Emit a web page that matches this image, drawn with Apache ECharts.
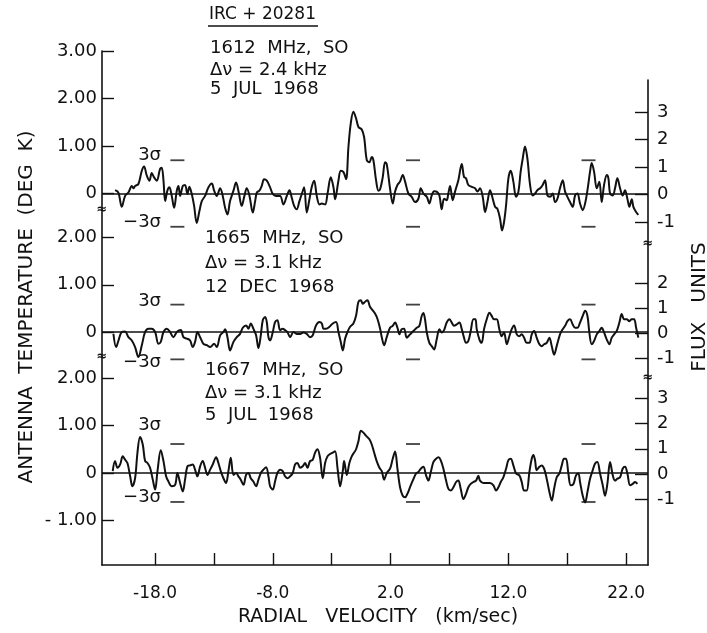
<!DOCTYPE html>
<html><head><meta charset="utf-8">
<script src="https://cdn.jsdelivr.net/npm/echarts@6/dist/echarts.min.js"></script>
<style>html,body{margin:0;padding:0;background:#fff}#c{width:707px;height:633px}</style>
</head><body><div id="c"></div>
<script>
// ---- data: [radial velocity km/s, antenna temperature K]
const spec1612 = [
[-21.39,0.07],[-21.11,0.02],[-20.82,-0.28],[-20.54,-0.05],[-20.26,0.02],[-19.97,0.16],[-19.83,0.11],[-19.69,0.16],[-19.41,0.20],[-19.12,0.48],[-18.93,0.57],[-18.70,0.38],[-18.47,0.27],[-18.28,0.43],[-18.08,0.34],[-17.85,0.27],[-17.57,0.52],[-17.43,0.54],[-17.28,0.27],[-17.14,-0.16],[-16.95,0.06],[-16.78,0.13],[-16.58,-0.05],[-16.38,-0.30],[-16.15,0.06],[-16.01,0.16],[-15.87,-0.05],[-15.64,0.16],[-15.45,0.18],[-15.25,-0.01],[-15.08,0.14],[-14.88,-0.01],[-14.68,-0.26],[-14.46,-0.62],[-14.23,-0.37],[-14.03,-0.16],[-13.75,-0.05],[-13.46,0.13],[-13.18,0.21],[-12.98,0.06],[-12.76,-0.05],[-12.47,0.11],[-12.25,-0.05],[-12.05,-0.30],[-11.85,-0.44],[-11.63,-0.16],[-11.34,0.06],[-11.12,0.23],[-10.89,0.02],[-10.64,-0.26],[-10.41,-0.05],[-10.21,0.11],[-9.98,-0.05],[-9.70,-0.40],[-9.50,-0.16],[-9.36,0.02],[-9.14,0.06],[-8.94,0.16],[-8.74,0.30],[-8.51,0.27],[-8.23,0.13],[-8.00,-0.01],[-7.72,-0.05],[-7.38,-0.05],[-7.10,-0.23],[-6.81,-0.05],[-6.59,0.07],[-6.39,-0.09],[-6.19,-0.26],[-5.97,-0.33],[-5.74,-0.16],[-5.54,-0.01],[-5.34,0.13],[-5.12,-0.40],[-4.89,-0.12],[-4.69,0.14],[-4.49,0.27],[-4.27,-0.05],[-4.04,-0.23],[-3.84,-0.21],[-3.56,-0.23],[-3.36,-0.01],[-3.08,0.34],[-2.85,0.13],[-2.71,-0.12],[-2.43,0.27],[-2.23,0.48],[-2.00,0.45],[-1.78,0.30],[-1.58,0.98],[-1.38,1.48],[-1.16,1.72],[-0.93,1.58],[-0.73,1.40],[-0.45,1.35],[-0.25,1.19],[-0.02,0.70],[0.20,0.66],[0.40,0.77],[0.54,0.70],[0.77,0.27],[0.97,0.06],[1.11,0.09],[1.33,0.34],[1.53,0.66],[1.67,0.62],
[1.95,0.11],[2.18,-0.21],[2.38,0.04],[2.58,0.18],[2.80,0.25],[3.03,0.39],[3.23,0.25],[3.51,0.00],[3.79,-0.07],[4.07,-0.18],[4.36,-0.11],[4.56,0.11],[4.78,0.00],[5.07,-0.07],[5.29,-0.21],[5.49,-0.04],[5.69,0.05],[5.91,0.04],[6.14,-0.04],[6.34,-0.33],[6.54,-0.11],[6.76,-0.14],[6.90,0.00],[7.05,0.16],[7.27,-0.14],[7.47,0.04],[7.75,0.28],[8.04,0.62],[8.23,0.35],[8.40,0.32],[8.60,0.18],[8.89,0.14],[9.17,0.11],[9.37,0.04],[9.59,0.11],[9.82,-0.07],[10.02,-0.39],[10.22,-0.18],[10.44,0.07],[10.67,-0.11],[10.87,-0.28],[11.06,-0.32],[11.29,-0.53],[11.46,-0.78],[11.63,-0.60],[11.80,-0.25],[12.00,0.32],[12.20,0.48],[12.42,0.25],[12.65,-0.07],[12.85,0.04],[13.04,0.46],[13.22,0.74],[13.41,0.99],[13.61,0.74],[13.84,0.18],[14.06,-0.04],[14.26,0.00],[14.46,0.07],[14.69,0.11],[14.91,0.18],[15.11,0.28],[15.31,-0.04],[15.54,-0.07],[15.76,0.00],[15.96,-0.18],[16.16,-0.11],[16.38,0.11],[16.61,0.28],[16.81,0.04],[17.01,-0.07],[17.23,-0.18],[17.46,-0.28],[17.66,-0.04],[17.86,0.00],[18.08,-0.21],[18.31,-0.35],[18.51,-0.21],[18.71,0.07],[18.93,0.46],[19.07,0.64],[19.27,0.46],[19.50,0.11],[19.72,0.25],[19.92,-0.18],[20.12,0.18],[20.35,0.39],[20.49,0.32],[20.63,0.00],[20.86,-0.04],[21.05,0.11],[21.25,0.32],[21.48,0.11],[21.70,-0.04],[21.90,0.07],[22.10,-0.11],[22.27,-0.28],[22.47,-0.12],[22.61,-0.28],[22.84,-0.39],[23.03,-0.45]
];
const spec1665 = [
[-21.53,-0.04],[-21.30,-0.32],[-21.10,-0.18],[-20.82,0.00],[-20.54,0.01],[-20.26,-0.11],[-19.97,-0.18],[-19.69,-0.32],[-19.41,-0.53],[-19.12,-0.28],[-18.84,0.00],[-18.56,0.07],[-18.28,0.07],[-17.99,0.00],[-17.71,-0.25],[-17.51,-0.21],[-17.28,0.00],[-17.00,0.07],[-16.72,0.00],[-16.44,-0.11],[-16.15,0.00],[-15.81,0.04],[-15.59,-0.11],[-15.30,-0.14],[-15.02,-0.18],[-14.80,-0.32],[-14.60,-0.21],[-14.40,0.00],[-14.17,-0.11],[-13.89,-0.25],[-13.61,-0.28],[-13.32,-0.32],[-12.98,-0.25],[-12.76,-0.32],[-12.47,-0.07],[-12.19,0.00],[-12.05,0.06],[-11.85,-0.11],[-11.63,-0.39],[-11.34,-0.21],[-11.06,-0.11],[-10.78,-0.04],[-10.55,0.09],[-10.27,0.14],[-10.07,0.07],[-9.87,0.18],[-9.65,0.07],[-9.42,-0.07],[-9.22,-0.34],[-9.02,-0.07],[-8.85,0.25],[-8.65,0.32],[-8.51,0.21],[-8.37,-0.11],[-8.23,-0.18],[-8.00,0.00],[-7.81,0.21],[-7.61,0.25],[-7.38,0.04],[-7.16,0.07],[-6.96,0.04],[-6.76,0.00],[-6.53,-0.11],[-6.25,0.00],[-5.97,-0.04],[-5.68,-0.04],[-5.40,-0.01],[-5.12,-0.04],[-4.84,-0.11],[-4.61,-0.07],[-4.33,0.14],[-4.04,0.21],[-3.84,0.18],[-3.70,0.07],[-3.48,0.07],[-3.19,0.11],[-2.91,0.18],[-2.63,0.21],[-2.43,0.00],[-2.23,-0.21],[-2.06,-0.39],[-1.86,-0.14],[-1.66,0.00],[-1.44,0.11],[-1.16,0.18],[-0.93,0.35],[-0.73,0.64],[-0.53,0.67],[-0.36,0.60],[-0.17,0.64],[0.03,0.67],[0.26,0.53],[0.48,0.46],[0.68,0.39],[0.88,0.28],[1.11,0.07],[1.25,-0.11],[1.45,-0.28],[1.67,-0.11],
[1.95,0.09],[2.18,0.13],[2.38,0.20],[2.58,0.09],[2.75,-0.05],[2.94,0.06],[3.14,0.07],[3.37,-0.12],[3.65,-0.05],[3.93,0.02],[4.22,0.09],[4.44,0.13],[4.64,0.34],[4.78,0.40],[4.92,0.27],[5.07,-0.01],[5.29,-0.23],[5.49,-0.30],[5.69,-0.37],[5.91,-0.16],[6.14,0.06],[6.34,-0.01],[6.54,0.04],[6.76,0.20],[6.99,0.27],[7.19,0.20],[7.39,0.13],[7.61,0.16],[7.84,0.20],[8.04,0.06],[8.23,-0.12],[8.40,-0.23],[8.60,-0.19],[8.80,0.02],[9.03,0.27],[9.20,0.27],[9.31,0.06],[9.54,-0.16],[9.73,-0.23],[9.93,0.06],[10.16,0.27],[10.39,0.41],[10.58,0.34],[10.78,0.27],[11.01,0.27],[11.23,0.06],[11.43,-0.09],[11.63,-0.01],[11.86,-0.26],[12.08,-0.09],[12.28,0.06],[12.48,0.14],[12.71,-0.05],[12.93,-0.09],[13.13,-0.05],[13.33,-0.12],[13.55,-0.23],[13.78,-0.23],[13.98,-0.05],[14.18,0.02],[14.40,-0.12],[14.63,-0.26],[14.83,-0.30],[15.03,-0.26],[15.25,-0.23],[15.48,-0.12],[15.68,-0.30],[15.88,-0.48],[16.10,-0.30],[16.38,-0.05],[16.61,0.06],[16.81,0.13],[17.01,0.23],[17.23,0.27],[17.46,0.16],[17.66,0.09],[17.86,0.09],[18.08,0.20],[18.31,0.34],[18.51,0.45],[18.71,0.34],[18.87,-0.01],[19.07,-0.26],[19.27,-0.19],[19.50,-0.05],[19.72,0.02],[19.92,0.09],[20.12,-0.01],[20.35,-0.16],[20.57,-0.26],[20.77,-0.12],[20.97,-0.05],[21.19,0.02],[21.42,0.20],[21.62,0.38],[21.82,0.27],[22.04,0.27],[22.27,0.23],[22.47,0.27],[22.67,0.27],[22.84,0.09],[23.03,-0.12]
];
const spec1667 = [
[-21.59,0.04],[-21.39,0.25],[-21.19,0.11],[-20.96,0.18],[-20.74,0.35],[-20.54,0.28],[-20.34,0.21],[-20.11,-0.07],[-19.92,-0.28],[-19.69,-0.11],[-19.49,0.43],[-19.27,0.76],[-19.04,0.60],[-18.84,0.25],[-18.64,0.21],[-18.42,0.11],[-18.19,-0.14],[-17.99,-0.35],[-17.79,0.04],[-17.51,0.48],[-17.28,0.25],[-17.06,-0.07],[-16.86,-0.18],[-16.58,-0.28],[-16.29,-0.25],[-16.10,0.00],[-15.87,-0.21],[-15.64,-0.39],[-15.45,-0.14],[-15.25,0.14],[-15.02,0.16],[-14.80,0.18],[-14.60,0.07],[-14.40,-0.07],[-14.17,0.14],[-13.95,0.25],[-13.75,0.11],[-13.55,-0.04],[-13.32,0.07],[-13.10,0.18],[-12.81,0.33],[-12.62,0.21],[-12.42,0.04],[-12.19,-0.11],[-11.97,-0.21],[-11.77,0.04],[-11.57,0.32],[-11.34,-0.04],[-11.12,0.00],[-10.92,-0.07],[-10.72,-0.14],[-10.49,-0.25],[-10.27,-0.04],[-10.07,0.00],[-9.87,-0.11],[-9.65,-0.18],[-9.42,-0.28],[-9.22,-0.14],[-9.02,0.00],[-8.80,0.07],[-8.57,0.12],[-8.37,-0.07],[-8.23,-0.28],[-8.00,-0.35],[-7.81,-0.18],[-7.61,0.00],[-7.38,0.07],[-7.16,0.04],[-6.96,-0.07],[-6.76,-0.11],[-6.53,-0.07],[-6.31,0.00],[-6.11,0.18],[-5.91,0.21],[-5.68,0.11],[-5.46,0.14],[-5.26,0.21],[-5.06,0.11],[-4.84,0.25],[-4.61,0.28],[-4.41,0.43],[-4.21,0.50],[-3.99,0.32],[-3.76,-0.11],[-3.56,0.21],[-3.36,0.35],[-3.14,0.40],[-2.91,0.43],[-2.71,0.46],[-2.51,0.11],[-2.29,-0.28],[-2.06,0.04],[-1.95,0.25],[-1.72,-0.04],[-1.50,0.21],[-1.30,0.35],[-1.10,0.43],[-0.93,0.50],[-0.73,0.67],[-0.53,0.89],[-0.31,0.85],[-0.08,0.78],[0.20,0.71],[0.40,0.60],[0.60,0.43],[0.82,0.25],[1.05,0.11],[1.25,0.04],[1.45,-0.14],[1.67,0.00],
[1.95,0.09],[2.18,0.30],[2.38,0.45],[2.58,0.09],[2.80,-0.30],[3.03,-0.48],[3.23,-0.51],[3.42,-0.44],[3.65,-0.30],[3.88,-0.16],[4.16,-0.01],[4.36,0.02],[4.56,0.09],[4.78,0.13],[5.01,-0.05],[5.21,-0.16],[5.41,0.02],[5.63,0.23],[5.86,0.30],[6.06,0.33],[6.25,0.27],[6.48,0.09],[6.71,-0.16],[6.90,-0.33],[7.10,-0.37],[7.33,-0.30],[7.56,-0.19],[7.75,-0.16],[7.95,-0.33],[8.18,-0.55],[8.40,-0.44],[8.60,-0.30],[8.80,-0.23],[9.03,-0.19],[9.25,-0.16],[9.45,-0.06],[9.59,-0.16],[9.88,-0.21],[10.16,-0.21],[10.44,-0.21],[10.73,-0.26],[10.95,-0.37],[11.15,-0.30],[11.35,-0.19],[11.57,-0.09],[11.80,0.09],[12.00,0.27],[12.20,0.30],[12.42,0.16],[12.65,-0.01],[12.93,-0.05],[13.13,-0.19],[13.33,-0.37],[13.55,-0.37],[13.78,0.02],[13.98,0.30],[14.12,0.38],[14.26,0.27],[14.40,0.06],[14.63,0.13],[14.83,0.16],[15.03,0.09],[15.25,-0.12],[15.48,-0.40],[15.68,-0.58],[15.88,-0.33],[16.10,-0.09],[16.33,-0.01],[16.53,0.16],[16.72,0.30],[16.89,0.30],[17.09,-0.01],[17.29,-0.26],[17.52,-0.23],[17.74,-0.05],[17.94,-0.01],[18.08,-0.19],[18.31,-0.48],[18.51,-0.62],[18.71,-0.40],[18.93,-0.12],[19.16,0.06],[19.36,0.20],[19.55,0.23],[19.78,-0.01],[20.01,-0.26],[20.20,-0.48],[20.40,-0.23],[20.63,0.23],[20.86,-0.05],[21.05,-0.16],[21.25,-0.12],[21.48,-0.09],[21.70,0.09],[21.90,0.13],[22.10,-0.01],[22.33,-0.26],[22.55,-0.23],[22.75,-0.19],[22.95,-0.23]
];
// 3-sigma levels (K) and velocities where the sigma dashes are drawn
const sigma3 = [0.70, 0.58, 0.61];
const sigmaVel = [-16.1, 3.9, 18.8];
// tick values
const xTickVals = [-18, -13, -8, -3, 2, 7, 12, 17, 22];
const xLabelVals = [-18, -8, 2, 12, 22];
const leftTicks = [[0, 1, 2, 3], [0, 1, 2], [-1, 0, 1, 2]];
const rightTicks = [[-1, 0, 1, 2, 3], [-1, 0, 1, 2], [-1, 0, 1, 2, 3]];
const panelText = [
  ['1612  MHz,  SO', 'Δν = 2.4 kHz', '5  JUL  1968'],
  ['1665  MHz,  SO', 'Δν = 3.1 kHz', '12  DEC  1968'],
  ['1667  MHz,  SO', 'Δν = 3.1 kHz', '5  JUL  1968']
];
const sourceName = 'IRC + 20281';

// ---- layout
const FONT = '"DejaVu Sans", sans-serif';
const INK = '#111';
const VMIN = -22.5, VMAX = 23.85;
const GL = 102, GR = 59;
const leftGrids = [{top: 51, h: 159, min: -0.347, max: 3}, {top: 210, h: 147, min: -0.53, max: 2.585}, {top: 357, h: 208, min: -1.937, max: 2.442}];
const rightGrids = [{top: 80, h: 164, min: -1.8, max: 4.164}, {top: 244, h: 134, min: -1.8, max: 3.56}, {top: 378, h: 187, min: -3.61, max: 3.81}];

const grid = [], xAxis = [], yAxis = [], series = [];
const axisLineStyle = {color: INK, width: 1.6};
leftGrids.forEach((g, i) => {
  grid.push({left: GL, right: GR, top: g.top, height: g.h});
  const isBottom = i === 2;
  xAxis.push({
    gridIndex: i, type: 'value', min: VMIN, max: VMAX, show: isBottom, position: 'bottom',
    axisLine: {show: true, onZero: false, lineStyle: axisLineStyle},
    axisTick: {inside: true, length: 12, lineStyle: {color: INK, width: 1.4}, customValues: xTickVals},
    axisLabel: {customValues: xLabelVals, color: INK, fontFamily: FONT, fontSize: 17, margin: 20,
      formatter: v => v.toFixed(1)},
    splitLine: {show: false}
  });
  yAxis.push({
    gridIndex: i, type: 'value', position: 'left', min: g.min, max: g.max,
    axisLine: {show: true, onZero: false, lineStyle: axisLineStyle},
    axisTick: {show: true, inside: true, length: 12, lineStyle: {color: INK, width: 1.4}, customValues: leftTicks[i]},
    axisLabel: {customValues: leftTicks[i], color: INK, fontFamily: FONT, fontSize: 18, margin: 5,
      formatter: v => v === 0 ? '0' : (v < 0 ? '- ' + Math.abs(v).toFixed(2) : v.toFixed(2))},
    splitLine: {show: false}
  });
});
rightGrids.forEach((g, i) => {
  const gi = 3 + i;
  grid.push({left: GL, right: GR, top: g.top, height: g.h});
  xAxis.push({gridIndex: gi, type: 'value', min: VMIN, max: VMAX, show: false, axisLine: {onZero: false}});
  yAxis.push({
    gridIndex: gi, type: 'value', position: 'right', min: g.min, max: g.max,
    axisLine: {show: true, onZero: false, lineStyle: axisLineStyle},
    axisTick: {show: true, inside: true, length: 13, lineStyle: {color: INK, width: 1.4}, customValues: rightTicks[i]},
    axisLabel: {customValues: rightTicks[i], color: INK, fontFamily: FONT, fontSize: 18, margin: 9,
      formatter: v => String(v)},
    splitLine: {show: false}
  });
});
const specs = [spec1612, spec1665, spec1667];
specs.forEach((d, i) => {
  series.push({
    type: 'line', xAxisIndex: i, yAxisIndex: i, data: d, smooth: 0.35, showSymbol: false,
    clip: false, silent: true, lineStyle: {color: INK, width: 2},
    markLine: {silent: true, symbol: 'none', label: {show: false},
      lineStyle: {color: INK, width: 1.5, type: 'solid'}, data: [{yAxis: 0}]}
  });
  const dashes = [];
  sigmaVel.forEach(v => { dashes.push([v, sigma3[i]]); dashes.push([v, -sigma3[i]]); });
  series.push({
    type: 'scatter', xAxisIndex: i, yAxisIndex: i, data: dashes, clip: false, silent: true,
    symbol: 'rect', symbolSize: [14, 1.8], itemStyle: {color: INK}
  });
});

// annotations
const txt = (text, x, y, opts = {}) => ({
  type: 'text', x, y, rotation: opts.rot || 0,
  style: {text, fill: INK, font: (opts.size || 18) + 'px ' + FONT,
    textAlign: opts.align || 'left', textVerticalAlign: 'middle'}
});
const graphic = [];
graphic.push(txt(sourceName, 209, 15, {size: 17}));
graphic.push({type: 'line', shape: {x1: 208, y1: 26, x2: 318, y2: 26}, style: {stroke: INK, lineWidth: 1.6}});
const textRows = [[48, 70, 89], [238, 263, 287], [370, 393, 415]];
const textX = [210, 205, 205];
panelText.forEach((rows, i) => rows.forEach((t, j) => graphic.push(txt(t, textX[i], textRows[i][j]))));
const sigLab = [[155, 222], [301, 362], [425, 497]];
sigLab.forEach(p => {
  graphic.push(txt('3σ', 161, p[0], {align: 'right'}));
  graphic.push(txt('−3σ', 161, p[1], {align: 'right'}));
});
graphic.push(txt('ANTENNA  TEMPERATURE  (DEG  K)', 27, 307, {rot: Math.PI / 2, align: 'center', size: 20}));
graphic.push(txt('FLUX   UNITS', 700, 307, {rot: Math.PI / 2, align: 'center', size: 20}));
graphic.push(txt('RADIAL   VELOCITY   (km/sec)', 378, 617, {align: 'center', size: 19}));
// axis break marks
[[GL, 210], [GL, 357], [707 - GR, 244], [707 - GR, 378]].forEach(p => {
  graphic.push({type: 'text', x: p[0], y: p[1], style: {text: '≈', fill: INK, font: 'bold 13px ' + FONT, textAlign: 'center', textVerticalAlign: 'middle'}});
});

const chart = echarts.init(document.getElementById('c'), null, {renderer: 'canvas'});
chart.setOption({animation: false, backgroundColor: '#fff', grid, xAxis, yAxis, series, graphic});
</script></body></html>
